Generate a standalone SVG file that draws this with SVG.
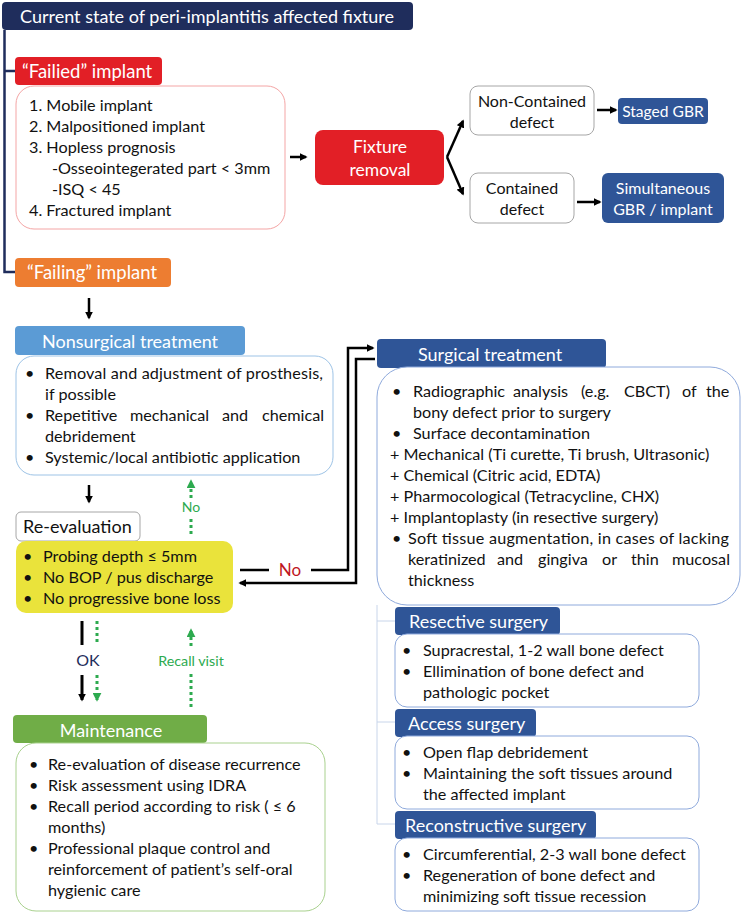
<svg xmlns="http://www.w3.org/2000/svg" width="745" height="913" viewBox="0 0 745 913">
<defs>
<style>
text{font-family:Lato,"Open Sans","Liberation Sans",sans-serif}
.hw{fill:#fff;font-size:18px}
.hb{fill:#fff;font-size:18.5px}
.b{fill:#111;font-size:16.2px}
.sw{fill:#fff;font-size:16px}
.c{text-anchor:middle}
.navy{fill:#1F2D5C}
.red{fill:#E21F26}
.blue{fill:#2F5597}
.box{fill:#fff;stroke-width:1}
.gbox{fill:#fff;stroke:#A6A6A6;stroke-width:1}
.arr{fill:none;stroke:#000;stroke-width:2.5}
.grn{fill:none;stroke:#2DAA4F;stroke-width:3;stroke-dasharray:3 3}
.thin{fill:none;stroke:#C8D5EA;stroke-width:1}
</style>
<marker id="ah" viewBox="0 0 10 10" refX="8" refY="5" markerWidth="8" markerHeight="8" markerUnits="userSpaceOnUse" orient="auto"><path d="M0,0 L10,5 L0,10 z" fill="#000"/></marker>
<marker id="ahg" viewBox="0 0 10 10" refX="8" refY="5" markerWidth="9" markerHeight="9" markerUnits="userSpaceOnUse" orient="auto"><path d="M0,0 L10,5 L0,10 z" fill="#2DAA4F"/></marker>
</defs>
<rect width="745" height="913" fill="#fff"/>

<g id="connectors">
<path d="M4.5 30 V272 H15 M4.5 71 H15" fill="none" stroke="#1F2D5C" stroke-width="2.5"/>
<path class="arr" d="M290 157 H306" marker-end="url(#ah)"/>
<path class="arr" d="M447 157 L463 121" marker-end="url(#ah)"/>
<path class="arr" d="M447 157 L463 194" marker-end="url(#ah)"/>
<path class="arr" d="M597 110 H616" marker-end="url(#ah)"/>
<path class="arr" d="M577 202 H600" marker-end="url(#ah)"/>
<path class="arr" d="M89 298 V318" marker-end="url(#ah)"/>
<path class="arr" d="M89 485 V502" marker-end="url(#ah)"/>
<path class="grn" d="M191 534 V517"/>
<path class="grn" d="M191 498 V481" marker-end="url(#ahg)"/>
<text x="191" y="512" class="c" style="fill:#2DAA4F;font-size:14px">No</text>
<path class="arr" d="M240 570 H269"/>
<text x="290" y="576" class="c" style="fill:#C0161E;font-size:17px">No</text>
<path class="arr" d="M311 570 H348 V348 H373" marker-end="url(#ah)"/>
<path class="arr" d="M375 359 H356 V583 H240" marker-end="url(#ah)"/>
<path class="thin" d="M377 605 V824 M377 621 H395 M377 722 H395 M377 824 H395"/>
<path d="M82 621 V645" stroke="#000" stroke-width="3"/>
<text x="88" y="666" class="c" style="fill:#1F2D5C;font-size:16px">OK</text>
<path d="M82 675 V700" stroke="#000" stroke-width="3" marker-end="url(#ah)"/>
<path class="grn" d="M97 621 V645"/>
<path class="grn" d="M97 675 V700" marker-end="url(#ahg)"/>
<path class="grn" d="M191 707 V672"/>
<text x="191" y="666" class="c" style="fill:#2DAA4F;font-size:14.3px">Recall visit</text>
<path class="grn" d="M191 646 V630" marker-end="url(#ahg)"/>
</g>

<g id="header">
<rect x="2" y="2" width="411" height="28" rx="4" class="navy"/>
<text x="20" y="23" class="hw">Current state of peri-implantitis affected fixture</text>
</g>

<g id="failed-label">
<rect x="15" y="57" width="147" height="28" rx="4" class="red"/>
<text x="22" y="78" class="hb">“Failied” implant</text>
</g>

<g id="failed-box">
<rect x="16" y="86" width="269" height="143" rx="18" class="box" stroke="#F4A5A5"/>
<text class="b" x="29" y="111">1. Mobile implant</text>
<text class="b" x="29" y="132">2. Malpositioned implant</text>
<text class="b" x="29" y="153">3. Hopless prognosis</text>
<text class="b" x="52" y="174">-Osseointegerated part &lt; 3mm</text>
<text class="b" x="52" y="195">-ISQ &lt; 45</text>
<text class="b" x="29" y="216">4. Fractured implant</text>
</g>

<g id="fixture-removal">
<rect x="315" y="130" width="129" height="55" rx="8" class="red"/>
<text x="380" y="153" class="c" style="fill:#fff;font-size:17.5px">Fixture</text>
<text x="380" y="176" class="c" style="fill:#fff;font-size:17.5px">removal</text>
</g>

<g id="non-contained">
<rect x="470" y="86" width="124" height="49" rx="8" class="gbox"/>
<text x="532" y="107" class="c" style="fill:#111;font-size:16px">Non-Contained</text>
<text x="532" y="128" class="c" style="fill:#111;font-size:16px">defect</text>
</g>

<g id="staged-gbr">
<rect x="618" y="98" width="90" height="26" rx="4" class="blue"/>
<text x="663" y="116.5" class="c" style="fill:#fff;font-size:15.6px">Staged GBR</text>
</g>

<g id="contained">
<rect x="470" y="173" width="104" height="50" rx="8" class="gbox"/>
<text x="522" y="194" class="c" style="fill:#111;font-size:16px">Contained</text>
<text x="522" y="215" class="c" style="fill:#111;font-size:16px">defect</text>
</g>

<g id="simultaneous">
<rect x="602" y="173" width="122" height="50" rx="6" class="blue"/>
<text x="663" y="194" class="sw c">Simultaneous</text>
<text x="663" y="215" class="sw c">GBR / implant</text>
</g>

<g id="failing-label">
<rect x="15" y="258" width="156" height="29" rx="4" fill="#ED7D31"/>
<text x="27" y="279" class="hb">“Failing” implant</text>
</g>

<g id="nonsurgical">
<rect x="15" y="326" width="230" height="29" rx="4" fill="#5B9BD5"/>
<text x="42" y="348" class="hw">Nonsurgical treatment</text>
<rect x="16" y="356" width="317" height="119" rx="18" class="box" stroke="#9DC3E6"/>
<text class="b" x="25" y="379">•</text>
<text class="b" x="45" y="379" textLength="278" lengthAdjust="spacing">Removal and adjustment of prosthesis,</text>
<text class="b" x="45" y="400">if possible</text>
<text class="b" x="25" y="421">•</text>
<text class="b" y="421"><tspan x="45">Repetitive</tspan> <tspan x="130">mechanical</tspan> <tspan x="222">and</tspan> <tspan x="262">chemical</tspan></text>
<text class="b" x="45" y="442">debridement</text>
<text class="b" x="25" y="463">•</text>
<text class="b" x="45" y="463">Systemic/local antibiotic application</text>
</g>

<g id="re-evaluation">
<rect x="16" y="512" width="124" height="29" rx="5" class="gbox"/>
<text x="23" y="533" style="fill:#111;font-size:18px">Re-evaluation</text>
<rect x="16" y="541" width="217" height="72" rx="10" fill="#EAE33B"/>
<text class="b" x="23" y="562">•</text>
<text class="b" x="43" y="562">Probing depth ≤ 5mm</text>
<text class="b" x="23" y="583">•</text>
<text class="b" x="43" y="583">No BOP / pus discharge</text>
<text class="b" x="23" y="604">•</text>
<text class="b" x="43" y="604">No progressive bone loss</text>
</g>

<g id="surgical">
<rect x="377" y="339" width="229" height="29" rx="4" class="blue"/>
<text x="418" y="361" class="hw">Surgical treatment</text>
<rect x="377" y="367" width="363" height="238" rx="30" class="box" stroke="#8FAADC"/>
<text class="b" x="392" y="397">•</text>
<text class="b" y="397"><tspan x="413">Radiographic</tspan> <tspan x="513">analysis</tspan> <tspan x="581">(e.g.</tspan> <tspan x="624">CBCT)</tspan> <tspan x="682">of</tspan> <tspan x="706">the</tspan></text>
<text class="b" x="413" y="418">bony defect prior to surgery</text>
<text class="b" x="392" y="439">•</text>
<text class="b" x="413" y="439">Surface decontamination</text>
<text class="b" x="390" y="460">+ Mechanical (Ti curette, Ti brush, Ultrasonic)</text>
<text class="b" x="390" y="481">+ Chemical (Citric acid, EDTA)</text>
<text class="b" x="390" y="502">+ Pharmocological (Tetracycline, CHX)</text>
<text class="b" x="390" y="523">+ Implantoplasty (in resective surgery)</text>
<text class="b" x="392" y="544">•</text>
<text class="b" x="408" y="544" textLength="321" lengthAdjust="spacing">Soft tissue augmentation, in cases of lacking</text>
<text class="b" y="565"><tspan x="408">keratinized</tspan> <tspan x="497">and</tspan> <tspan x="538">gingiva</tspan> <tspan x="602">or</tspan> <tspan x="631">thin</tspan> <tspan x="672">mucosal</tspan></text>
<text class="b" x="408" y="586">thickness</text>
</g>

<g id="resective">
<rect x="395" y="607" width="165" height="28" rx="4" class="blue"/>
<text x="409" y="628" class="hw">Resective surgery</text>
<rect x="395" y="634" width="304" height="73" rx="12" class="box" stroke="#8FAADC"/>
<text class="b" x="402" y="656">•</text>
<text class="b" x="423" y="656">Supracrestal, 1-2 wall bone defect</text>
<text class="b" x="402" y="677">•</text>
<text class="b" x="423" y="677">Ellimination of bone defect and</text>
<text class="b" x="423" y="698">pathologic pocket</text>
</g>

<g id="access">
<rect x="395" y="709" width="141" height="28" rx="4" class="blue"/>
<text x="408" y="730" class="hw">Access surgery</text>
<rect x="395" y="736" width="304" height="73" rx="12" class="box" stroke="#8FAADC"/>
<text class="b" x="402" y="758">•</text>
<text class="b" x="423" y="758">Open flap debridement</text>
<text class="b" x="402" y="779">•</text>
<text class="b" x="423" y="779">Maintaining the soft tissues around</text>
<text class="b" x="423" y="800">the affected implant</text>
</g>

<g id="reconstructive">
<rect x="395" y="811" width="201" height="28" rx="4" class="blue"/>
<text x="405" y="832" class="hw">Reconstructive surgery</text>
<rect x="395" y="838" width="304" height="73" rx="12" class="box" stroke="#8FAADC"/>
<text class="b" x="402" y="860">•</text>
<text class="b" x="423" y="860">Circumferential, 2-3 wall bone defect</text>
<text class="b" x="402" y="881">•</text>
<text class="b" x="423" y="881">Regeneration of bone defect and</text>
<text class="b" x="423" y="902">minimizing soft tissue recession</text>
</g>

<g id="maintenance">
<rect x="13" y="715" width="194" height="28" rx="4" fill="#70AD47"/>
<text x="111" y="737" class="hw c">Maintenance</text>
<rect x="16" y="743" width="309" height="168" rx="20" class="box" stroke="#A9D18E"/>
<text class="b" x="29" y="770">•</text>
<text class="b" x="48" y="770">Re-evaluation of disease recurrence</text>
<text class="b" x="29" y="791">•</text>
<text class="b" x="48" y="791">Risk assessment using IDRA</text>
<text class="b" x="29" y="812">•</text>
<text class="b" x="48" y="812">Recall period according to risk ( ≤ 6</text>
<text class="b" x="48" y="833">months)</text>
<text class="b" x="29" y="854">•</text>
<text class="b" x="48" y="854">Professional plaque control and</text>
<text class="b" x="48" y="875">reinforcement of patient’s self-oral</text>
<text class="b" x="48" y="896">hygienic care</text>
</g>
</svg>
